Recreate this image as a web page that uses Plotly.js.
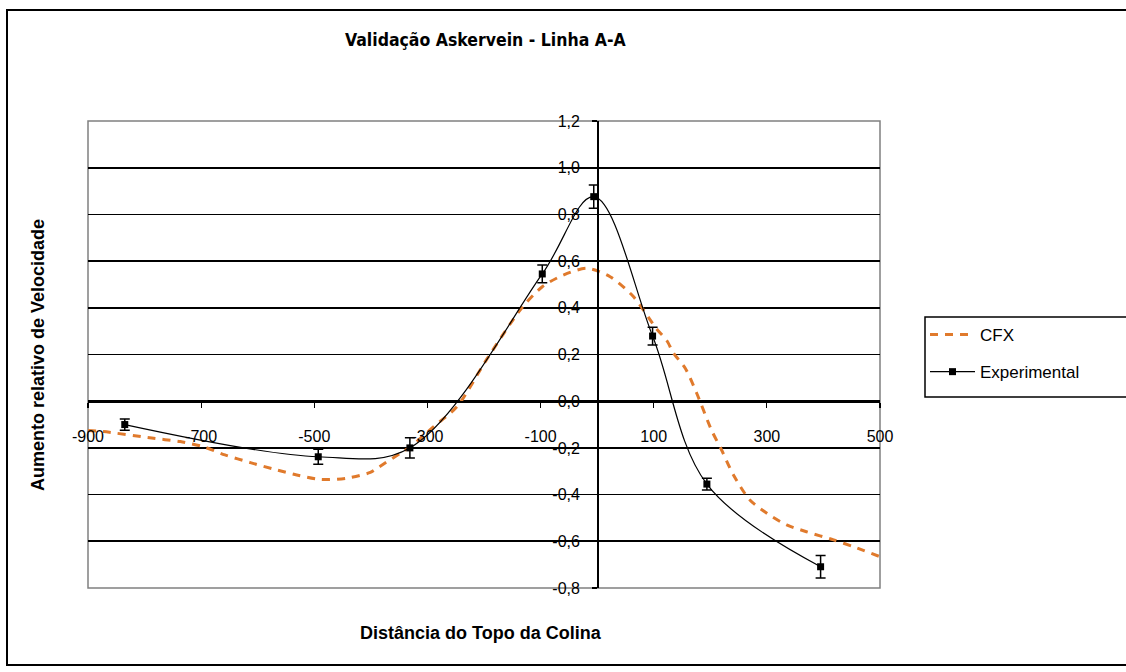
<!DOCTYPE html>
<html>
<head>
<meta charset="utf-8">
<script src="https://cdn.plot.ly/plotly-3.0.1.min.js"></script>
<style>html,body{margin:0;padding:0;background:#fff;}#chart{width:1126px;height:672px;}</style>
</head>
<body>
<div id="chart"></div>
<script>
// Experimental data (distance from hill top, speed-up) with error bars
var expX = [-835, -493, -331, -97, -6, 98, 194, 395];
var expY = [-0.10, -0.238, -0.20, 0.545, 0.876, 0.279, -0.355, -0.709];
var expErr = [0.024, 0.032, 0.043, 0.038, 0.05, 0.038, 0.025, 0.048];

// CFX simulation curve
var cfxX = [-900, -873, -784, -737, -696, -658, -613, -573, -531, -490, -443, -401, -389, -348, -330, -289, -248, -195, -133, -97, -60, -18, 23, 64, 105, 123, 135, 156, 176, 202, 220, 241, 270, 300, 335, 370, 418, 453, 500];
var cfxY = [-0.125, -0.13, -0.159, -0.173, -0.195, -0.23, -0.263, -0.29, -0.316, -0.335, -0.33, -0.305, -0.287, -0.223, -0.195, -0.109, -0.024, 0.18, 0.40, 0.49, 0.54, 0.569, 0.533, 0.448, 0.31, 0.26, 0.206, 0.14, 0.034, -0.123, -0.209, -0.316, -0.423, -0.48, -0.53, -0.559, -0.594, -0.623, -0.666];

// Tick labels
var xTickVals = [-900, -700, -500, -300, -100, 100, 300, 500];
var xTickText = ["-900", "-700", "-500", "-300", "-100", "100", "300", "500"];
var yTickVals = [-0.8, -0.6, -0.4, -0.2, 0.0, 0.2, 0.4, 0.6, 0.8, 1.0, 1.2];
var yTickText = ["-0,8", "-0,6", "-0,4", "-0,2", "0,0", "0,2", "0,4", "0,6", "0,8", "1,0", "1,2"];

var titleText = "Validação Askervein - Linha A-A";
var xTitle = "Distância do Topo da Colina";
var yTitle = "Aumento relativo de Velocidade";

var xMin = -900, xMax = 500, yMin = -0.8, yMax = 1.2;

var traces = [
  {
    x: cfxX, y: cfxY, name: "CFX", mode: "lines", legendgroup: "a",
    line: {color: "#E07A2C", width: 3, dash: "8px,7px", shape: "spline", smoothing: 0.8}
  },
  {
    x: expX, y: expY, name: "Experimental", mode: "lines+markers", legendgroup: "b",
    line: {color: "#000000", width: 1.2, shape: "spline", smoothing: 1},
    marker: {symbol: "square", size: 7, color: "#000000"},
    error_y: {type: "data", array: expErr, visible: true, color: "#000000", thickness: 1.5, width: 5}
  }
];

var PL = 88, PR = 880, PT = 121, PB = 588;
var W = 1126, H = 672;
function px(x) { return (x - PL) / (PR - PL); }
function py(y) { return (PB - y) / (PB - PT); }

var tickFont = {family: "Liberation Sans, Arial, sans-serif", size: 16, color: "#000"};

var layout = {
  width: W, height: H,
  margin: {l: PL, r: W - PR, t: PT, b: H - PB, pad: 0},
  paper_bgcolor: "#ffffff", plot_bgcolor: "#ffffff",
  showlegend: true,
  font: {family: "Liberation Sans, Arial, sans-serif", size: 15, color: "#000"},
  xaxis: {
    range: [xMin, xMax], tickmode: "array", tickvals: xTickVals, ticktext: xTickText,
    showgrid: false, zeroline: false,
    anchor: "free", position: (0 - yMin) / (yMax - yMin),
    showline: true, linecolor: "#000", linewidth: 1.5,
    ticks: "outside", ticklen: 5, tickwidth: 1.2, tickcolor: "#000",
    ticklabelstandoff: 15, tickfont: tickFont
  },
  yaxis: {
    range: [yMin, yMax], tickmode: "array", tickvals: yTickVals, ticktext: yTickText,
    showgrid: true, gridcolor: "#000", gridwidth: 1.6, zeroline: false,
    anchor: "free", position: (0 - xMin) / (xMax - xMin),
    showline: true, linecolor: "#000", linewidth: 1.5,
    ticks: "outside", ticklen: 5, tickwidth: 1.2, tickcolor: "#000",
    ticklabelstandoff: 9, tickfont: tickFont
  },
  legend: {
    x: px(925), y: py(317), xanchor: "left", yanchor: "top",
    borderwidth: 0, bgcolor: "rgba(0,0,0,0)",
    font: {family: "Liberation Sans, Arial, sans-serif", size: 17, color: "#000"},
    traceorder: "grouped", tracegroupgap: 12, itemwidth: 45
  },
  shapes: [
    {type: "rect", xref: "paper", yref: "paper", x0: 0, x1: 1, y0: 0, y1: 1,
     line: {color: "#808080", width: 1.5}, layer: "below"},
    {type: "rect", xref: "paper", yref: "paper", x0: px(7), x1: px(1140), y0: py(665), y1: py(10),
     line: {color: "#000", width: 2}, layer: "below"},
    {type: "rect", xref: "paper", yref: "paper", x0: px(925), x1: px(1140), y0: py(397), y1: py(317),
     line: {color: "#000", width: 1.5}, layer: "below"}
  ],
  annotations: [
    {text: "<b>" + titleText + "</b>", xref: "paper", yref: "paper", x: px(485), y: py(40),
     xanchor: "center", yanchor: "middle", showarrow: false,
     font: {family: "Liberation Sans Narrow, DejaVu Sans Condensed, Arial Narrow, sans-serif", size: 17.5, color: "#000"}},
    {text: "<b>" + xTitle + "</b>", xref: "paper", yref: "paper", x: px(481), y: py(633),
     xanchor: "center", yanchor: "middle", showarrow: false,
     font: {family: "Liberation Sans, Arial, sans-serif", size: 18, color: "#000"}},
    {text: "<b>" + yTitle + "</b>", xref: "paper", yref: "paper", x: px(38), y: py(355),
     xanchor: "center", yanchor: "middle", showarrow: false, textangle: -90,
     font: {family: "Liberation Sans, Arial, sans-serif", size: 18, color: "#000"}}
  ]
};

Plotly.newPlot("chart", traces, layout, {displayModeBar: false, staticPlot: true});
</script>
</body>
</html>
